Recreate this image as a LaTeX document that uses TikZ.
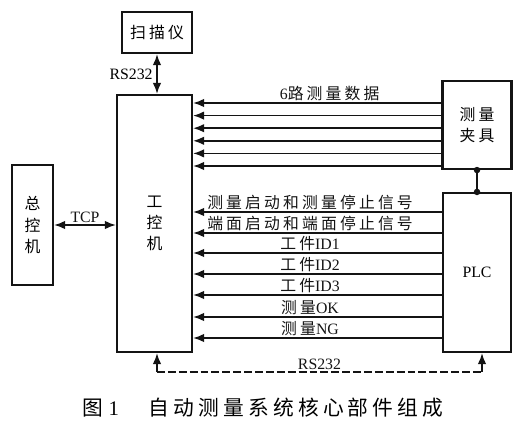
\documentclass[tikz,border=0pt]{standalone}
\usepackage{fontspec}
\setmainfont{Liberation Serif}
\newfontfamily\cjk[LetterSpace=20]{Noto Sans CJK SC}
\newcommand\zh[1]{{\cjk #1}}
\usepackage{tikz}
\usetikzlibrary{positioning, calc, arrows.meta}

\begin{document}
\begin{tikzpicture}[
    x=0.02cm, y=-0.02cm,
    box/.style = {rectangle, draw=ink, line width=1.2pt, align=center, inner sep=0pt, font=\fontsize{9}{12}\selectfont\cjk},
    arrow/.style = {draw=ink, line width=1pt, -{Latex[length=2.2mm, width=1.7mm]}},
    twoway/.style = {draw=ink, line width=1pt, {Latex[length=2.2mm, width=1.7mm]}-{Latex[length=2.2mm, width=1.7mm]}},
    bus/.style = {draw=ink, line width=1pt, dash pattern=on 4.5pt off 1.7pt},
    sig/.style = {above, inner sep=1pt, text=ink, font=\fontsize{9}{10}\selectfont},
    dot/.style = {circle, fill=ink, inner sep=0pt, minimum size=0.13cm}
]
    % Colors definition
    \definecolor{ink}{RGB}{20, 20, 20}

    \useasboundingbox (0,0) rectangle (524,433);

    % Nodes
    \node (scanner) [box, minimum width=1.4cm, minimum height=0.82cm] at (157,32.5) {扫描仪};
    \node (ipc) [box, minimum width=1.5cm, minimum height=5.14cm] at (154.5,223.5) {工\\控\\机};
    \node (master) [box, minimum width=0.82cm, minimum height=2.4cm] at (32.5,225) {总\\控\\机};
    \node (jig) [box, minimum width=1.38cm, minimum height=1.76cm] at (477,125) {测量\\夹具};
    \node (plc) [box, minimum width=1.36cm, minimum height=3.18cm, font=\fontsize{9}{12}\selectfont] at (477,272.5) {PLC};

    \coordinate (busL) at (157,372);
    \coordinate (busR) at (482,372);

    % Connections
    \draw [twoway] (scanner.south) -- node[left, inner sep=2pt, font=\fontsize{9}{10}\selectfont] {RS232} (scanner.south |- ipc.north);
    \draw [twoway] (master.east) -- node[sig] {TCP} (master.east -| ipc.west);

    % 6 measuring channels
    \draw [arrow] (jig.west |- 0,103) -- node[sig, pos=0.45] {6\zh{路测量数据}} (ipc.east |- 0,103);
    \foreach \y in {115.6, 128.2, 140.8, 153.4, 166}
        \draw [arrow] (jig.west |- 0,\y) -- (ipc.east |- 0,\y);

    % PLC signals
    \foreach \y/\txt in {212/\zh{测量启动和测量停止信号}, 233/\zh{端面启动和端面停止信号},
                         253/\zh{工件}ID1, 274/\zh{工件}ID2, 295/\zh{工件}ID3,
                         317/\zh{测量}OK, 338/\zh{测量}NG}
        \draw [arrow] (plc.west |- 0,\y) -- node[sig, pos=0.53] {\txt} (ipc.east |- 0,\y);

    \draw [draw=ink, line width=1pt] (jig.south) node[dot] {} -- (plc.north) node[dot] {};

    % RS232 bus
    \draw [bus] (busL) -- node[sig] {RS232} (busR);
    \draw [arrow] (busL) -- (ipc.south -| busL);
    \draw [arrow] (busR) -- (plc.south -| busR);

    % Caption
    \node (caption) [font=\fontsize{11.8}{13}\selectfont] at (263,408) {\zh{图}\hspace{3pt}1\hspace{17pt}\zh{自动测量系统核心部件组成}};

\end{tikzpicture}
\end{document}
